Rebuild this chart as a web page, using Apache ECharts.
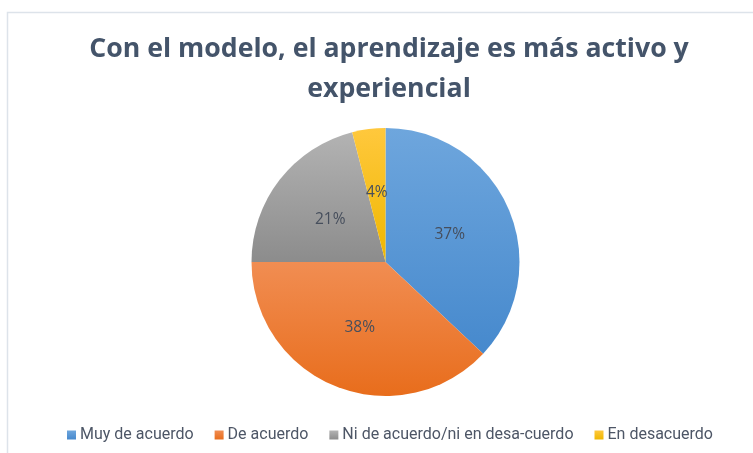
<!DOCTYPE html>
<html><head><meta charset="utf-8">
<script src="https://cdn.jsdelivr.net/npm/echarts@6/dist/echarts.min.js"></script>
<style>html,body{margin:0;padding:0;background:#fff}#c{width:753px;height:453px}</style>
</head><body><div id="c"></div>
<script>
const titleText = 'Con el modelo, el aprendizaje es más activo y\nexperiencial';
const categories = ['Muy de acuerdo', 'De acuerdo', 'Ni de acuerdo/ni en desa-cuerdo', 'En desacuerdo'];
const values = [37, 38, 21, 4];
const colorsTop = ['#6ea6dd', '#f18d52', '#b3b3b3', '#ffc83d'];
const colorsBottom = ['#4689cd', '#e86d1c', '#8c8c8c', '#efb700'];

const chart = echarts.init(document.getElementById('c'));
chart.setOption({
  animation: false,
  graphic: [{
    type: 'rect', shape: {x: 7.5, y: 12.5, width: 800, height: 500},
    style: {fill: 'none', stroke: '#dde3ea', lineWidth: 1.5}, silent: true
  }],
  title: {
    text: titleText, left: 384, top: 24, textAlign: 'center',
    textStyle: {fontFamily: 'Open Sans', fontWeight: 'bold', fontSize: 26.7, color: '#44546a', lineHeight: 40}
  },
  legend: {
    top: 422, left: 62, icon: 'rect', itemWidth: 9, itemHeight: 9, itemGap: 21,
    data: categories,
    textStyle: {fontFamily: 'Roboto', fontSize: 16, color: '#4d5666', padding: [0,0,0,-1]}
  },
  series: [{
    type: 'pie', center: [385.5, 262], radius: [0, 134], startAngle: 90, clockwise: true,
    label: {position: 'inside', formatter: '{d}%', fontFamily: 'Open Sans', fontSize: 15.5, color: '#464e5c'},
    labelLine: {show: false},
    itemStyle: {borderWidth: 0},
    data: categories.map((n, i) => ({
      name: n, value: values[i],
      itemStyle: {color: new echarts.graphic.LinearGradient(0, 0, 0, 1, [
        {offset: 0, color: colorsTop[i]}, {offset: 1, color: colorsBottom[i]}])}
    }))
  }]
});
</script></body></html>
